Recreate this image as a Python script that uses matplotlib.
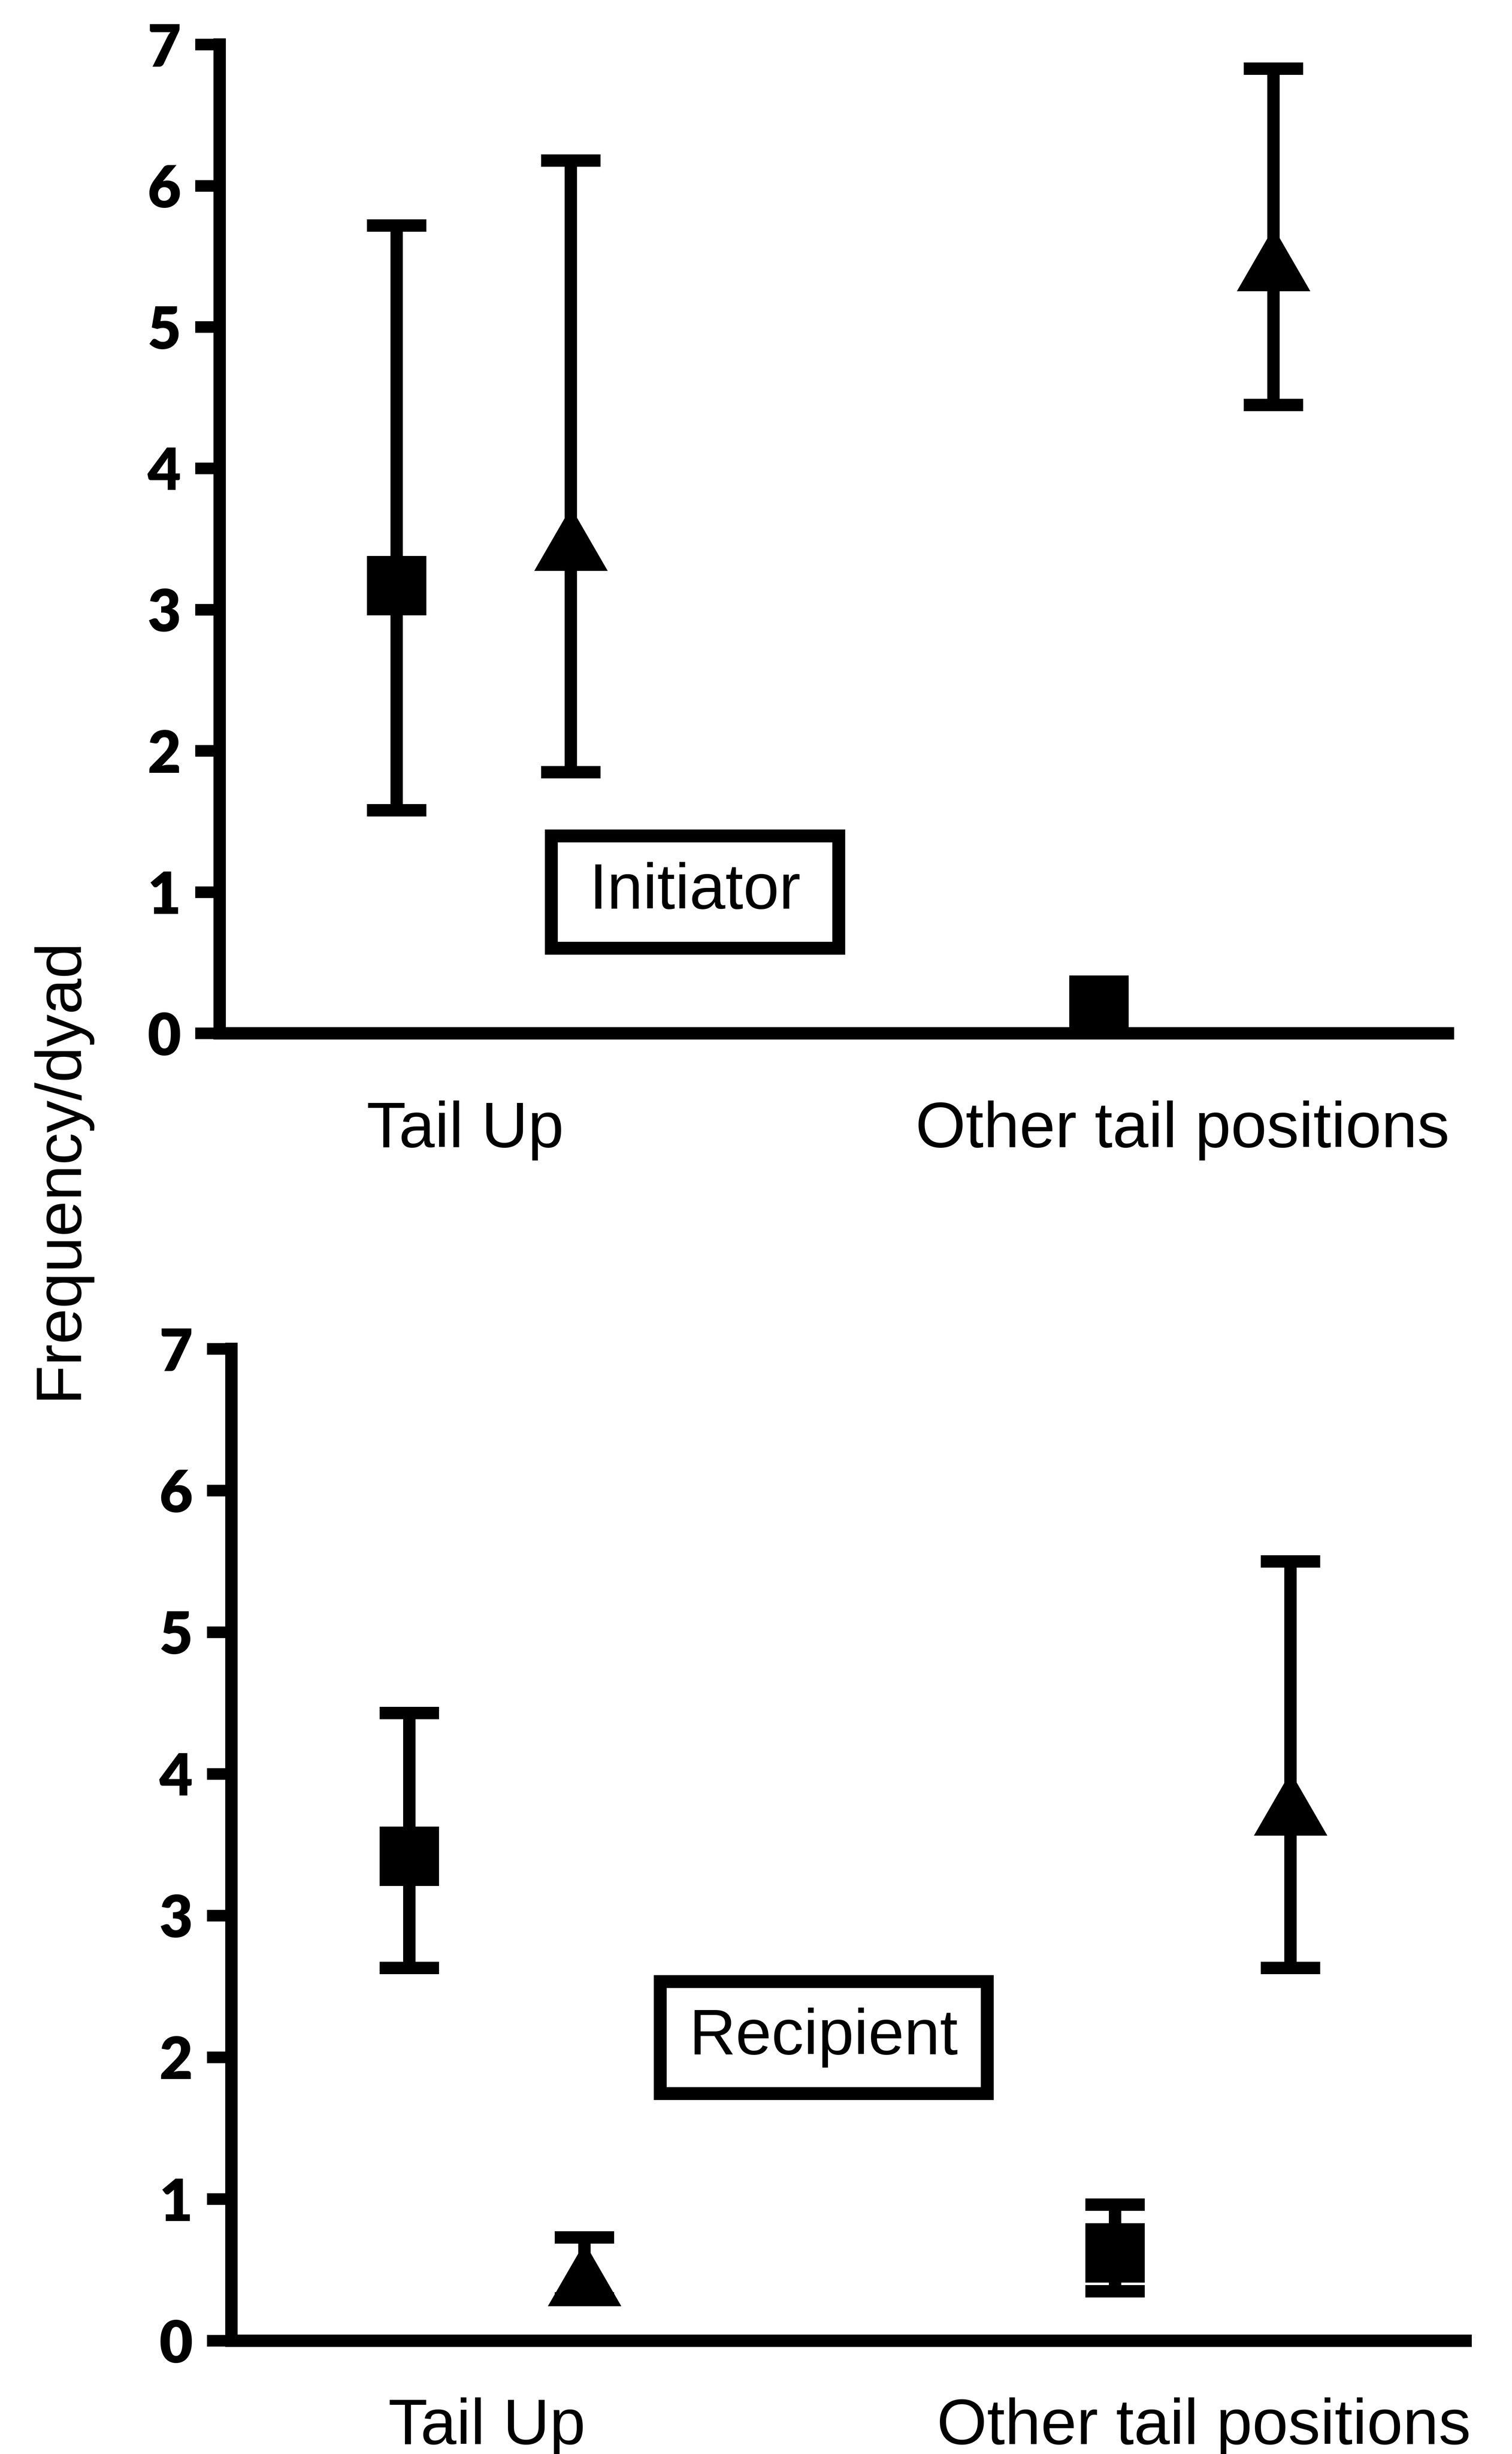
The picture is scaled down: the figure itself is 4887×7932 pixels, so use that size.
import numpy as np
import matplotlib
matplotlib.use("Agg")
import matplotlib.pyplot as plt
from matplotlib.patches import Rectangle
from matplotlib.path import Path

# ---------------- data ----------------
categories = ["Tail Up", "Other tail positions"]
yticks = [0, 1, 2, 3, 4, 5, 6, 7]

# Initiator panel
init_sq_mean = [3.17, 0.20]
init_sq_low = [1.58, np.nan]
init_sq_high = [5.72, np.nan]
init_tri_mean = [3.50, 5.48]
init_tri_low = [1.85, 4.45]
init_tri_high = [6.18, 6.83]

# Recipient panel
rec_sq_mean = [3.42, 0.62]
rec_sq_low = [2.63, 0.35]
rec_sq_high = [4.43, 0.96]
rec_tri_mean = [0.47, 3.79]
rec_tri_low = [0.30, 2.63]
rec_tri_high = [0.73, 5.50]

panel_labels = ["Initiator", "Recipient"]
ylabel = "Frequency/dyad"

# ---------------- style ----------------
TEXT_FONT = ["Liberation Sans", "DejaVu Sans"]
TICK_FONT = ["Lato", "DejaVu Sans"]
LW = 9.6
group_centers = np.array([0.215, 0.787])
offset = 0.071
label_positions = [np.array([0.200, 0.784]), np.array([0.207, 0.788])]

tri_path = Path([(-1.0, -0.866), (1.0, -0.866), (0.0, 0.866), (-1.0, -0.866)],
                [Path.MOVETO, Path.LINETO, Path.LINETO, Path.CLOSEPOLY])

fig = plt.figure(figsize=(4887 / 300, 7932 / 300), dpi=300)

axes_pos = [
    [0.1453, 0.5789, 0.8123, 0.4029],
    [0.1531, 0.04614, 0.8162, 0.4042],
]
box_geom = [
    (0.387, 0.1429, 0.234, 0.1136),
    (0.480, 0.3057, 0.265, 0.113),
]
xlabel_pad = [52, 44]

panels = [
    (init_sq_mean, init_sq_low, init_sq_high, init_tri_mean, init_tri_low, init_tri_high),
    (rec_sq_mean, rec_sq_low, rec_sq_high, rec_tri_mean, rec_tri_low, rec_tri_high),
]


def draw_series(ax, x, mean, low, high, marker, ms):
    mean = np.asarray(mean, float)
    low = np.asarray(low, float)
    high = np.asarray(high, float)
    yerr = np.vstack([mean - low, high - mean])
    ax.errorbar(x, mean, yerr=yerr, fmt="none", ecolor="black",
                elinewidth=LW, capsize=23, capthick=LW, zorder=2)
    ax.plot(x, mean, linestyle="none", marker=marker, markersize=ms,
            color="black", markeredgewidth=0, zorder=3, clip_on=False)


for i, ax_rect in enumerate(axes_pos):
    ax = fig.add_axes(ax_rect)
    sqm, sql, sqh, trm, trl, trh = panels[i]
    draw_series(ax, group_centers - offset, sqm, sql, sqh, "s", 46)
    draw_series(ax, group_centers + offset, trm, trl, trh, tri_path, 57)

    ax.set_xlim(0, 1)
    ax.set_ylim(0, 7)
    for s in ["top", "right"]:
        ax.spines[s].set_visible(False)
    for s in ["left", "bottom"]:
        ax.spines[s].set_linewidth(LW)
        ax.spines[s].set_capstyle("projecting")

    ax.set_yticks(yticks)
    ax.set_yticklabels([str(t) for t in yticks])
    ax.tick_params(axis="y", direction="out", length=19, width=9, pad=11)
    for lab in ax.get_yticklabels():
        lab.set_fontfamily(TICK_FONT)
        lab.set_fontweight("heavy")
        lab.set_fontsize(45)

    ax.set_xticks(label_positions[i])
    ax.set_xticklabels(categories)
    ax.tick_params(axis="x", length=0, pad=xlabel_pad[i])
    for lab in ax.get_xticklabels():
        lab.set_fontfamily(TEXT_FONT)
        lab.set_fontsize(50)

    cx, cy, w, h = box_geom[i]
    ax.add_patch(Rectangle((cx - w / 2, cy - h / 2), w, h, transform=ax.transAxes,
                           facecolor="white", edgecolor="black", linewidth=10,
                           joinstyle="miter", zorder=4))
    ax.text(cx, cy, panel_labels[i], transform=ax.transAxes, ha="center",
            va="center", fontsize=50, family=TEXT_FONT, zorder=5)

fig.text(0.0393, 0.524, ylabel, rotation=90, ha="center", va="center",
         fontsize=50, family=TEXT_FONT)

fig.savefig("out.png", dpi=300, facecolor="white")
